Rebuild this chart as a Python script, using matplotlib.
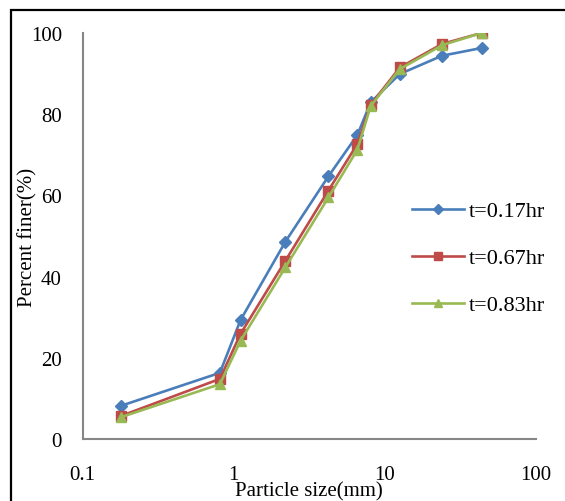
import matplotlib
matplotlib.use("Agg")
from matplotlib import pyplot as plt
from matplotlib.patches import Rectangle

plt.rcParams['font.family'] = ['Liberation Serif', 'DejaVu Serif']

# sieve sizes (mm) and percent finer for each time
size_mm = [0.18, 0.81, 1.11, 2.2, 4.24, 6.6, 8.07, 12.6, 24, 43.8]
finer_017 = [8.2, 16.3, 29.3, 48.6, 64.7, 74.9, 82.9, 89.9, 94.4, 96.3]
finer_067 = [5.7, 14.8, 25.9, 43.9, 61.2, 72.7, 82.3, 91.5, 97.3, 100]
finer_083 = [5.4, 13.5, 24.2, 42.3, 59.5, 71.3, 82.0, 91.1, 97.0, 100]
labels = ["t=0.17hr", "t=0.67hr", "t=0.83hr"]

fig = plt.figure(figsize=(5.65, 5.02), dpi=100)
ax = fig.add_axes([0.1464, 0.1235, 0.8017, 0.8088])

ax.plot(size_mm, finer_017, color="#4A7EBB", lw=1.9, marker="D", ms=6, label=labels[0])
ax.plot(size_mm, finer_067, color="#BE4B48", lw=1.9, marker="s", ms=7, label=labels[1])
ax.plot(size_mm, finer_083, color="#98B954", lw=1.9, marker="^", ms=7.5, label=labels[2])

ax.set_xscale("log")
ax.set_xlim(0.1, 100)
ax.set_ylim(0, 100)
ax.set_xticks([0.1, 1, 10, 100])
ax.set_xticklabels(["0.1", "1", "10", "100"])
ax.set_yticks([0, 20, 40, 60, 80, 100])
ax.minorticks_off()
ax.tick_params(axis="x", length=0, pad=19, labelsize=15)
ax.tick_params(axis="y", length=0, pad=15, labelsize=15)

for s in ["top", "right"]:
    ax.spines[s].set_visible(False)
for s in ["left", "bottom"]:
    ax.spines[s].set_color("#868686")
    ax.spines[s].set_linewidth(1.5)

ax.set_xlabel("Particle size(mm)", fontsize=15)
ax.xaxis.set_label_coords(0.5, -0.103)
ax.set_ylabel("Percent finer(%)", fontsize=15)
ax.yaxis.set_label_coords(-0.1, 0.5)

fig.legend(loc="center left", bbox_to_anchor=(0.729, 0.484), frameon=False,
           fontsize=16, handlelength=2.35, handletextpad=0.22, labelspacing=1.19,
           borderpad=0, borderaxespad=0, markerscale=0.8)

fig.patches.append(Rectangle((11 / 565, -0.1), 1.2, 1 - 11 / 502 + 0.1,
                             transform=fig.transFigure, fill=False,
                             edgecolor="black", lw=1.6, clip_on=False))

fig.savefig("out.png", dpi=100)
